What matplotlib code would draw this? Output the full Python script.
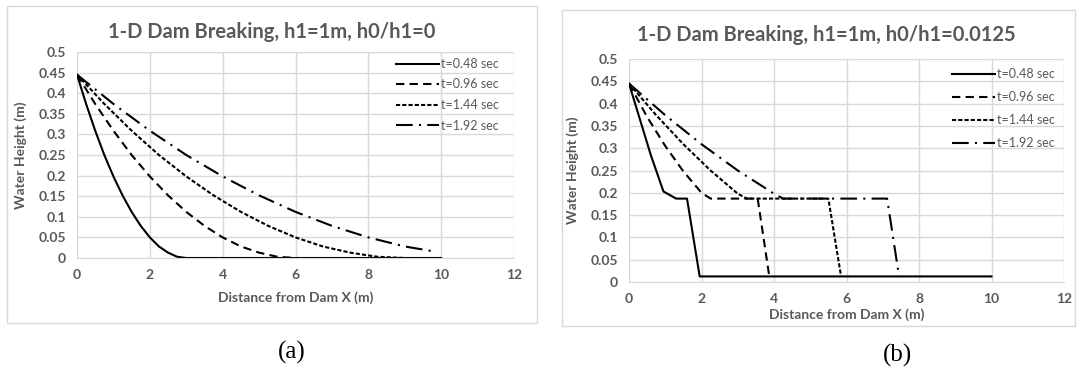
import numpy as np
import matplotlib
matplotlib.use('Agg')
import matplotlib.pyplot as plt
from matplotlib.patches import Rectangle
from matplotlib.ticker import FuncFormatter

W, H = 1077, 379
plt.rcParams['font.family'] = ['Lato', 'DejaVu Sans']

labels = ['t=0.48 sec', 't=0.96 sec', 't=1.44 sec', 't=1.92 sec']

# (a) h0/h1 = 0
xa1 = [0, 0.25, 0.5, 0.75, 1, 1.25, 1.5, 1.75, 2, 2.25, 2.5, 2.75, 3, 10]
ha1 = [0.445, 0.374, 0.309, 0.25, 0.198, 0.152, 0.112, 0.078, 0.05, 0.028, 0.013, 0.003, 0, 0]
xa2 = [0, 0.5, 1, 1.5, 2, 2.5, 3, 3.5, 4, 4.5, 5, 5.5, 6]
ha2 = [0.445, 0.374, 0.309, 0.25, 0.198, 0.152, 0.112, 0.078, 0.05, 0.028, 0.013, 0.003, 0]
xa3 = [0, 0.75, 1.5, 2.25, 3, 3.75, 4.5, 5.25, 6, 6.75, 7.5, 8.25, 9]
ha3 = [0.445, 0.374, 0.309, 0.25, 0.198, 0.152, 0.112, 0.078, 0.05, 0.028, 0.013, 0.003, 0]
xa4 = [0, 1, 2, 3, 4, 5, 6, 7, 8, 9, 9.8]
ha4 = [0.445, 0.374, 0.309, 0.25, 0.198, 0.152, 0.112, 0.078, 0.05, 0.028, 0.016]

# (b) h0/h1 = 0.0125
xb1 = [0, 0.3, 0.6, 0.95, 1.3, 1.6, 1.95, 10]
hb1 = [0.445, 0.365, 0.285, 0.203, 0.187, 0.187, 0.0125, 0.0125]
xb2 = [0, 0.5, 1, 1.5, 2.0, 2.25, 3.55, 3.87]
hb2 = [0.445, 0.37, 0.305, 0.248, 0.2, 0.187, 0.187, 0.0125]
xb3 = [0, 0.75, 1.5, 2.25, 3.0, 3.25, 5.5, 5.85]
hb3 = [0.445, 0.374, 0.309, 0.25, 0.198, 0.187, 0.187, 0.0125]
xb4 = [0, 1, 2, 3, 4, 4.25, 7.12, 7.45]
hb4 = [0.445, 0.374, 0.309, 0.25, 0.198, 0.187, 0.187, 0.0125]

styles = ['-', (0, (4, 2.5)), (0, (2, 1)), (0, (8, 3, 1, 3))]
gray = '#595959'
grid = '#d9d9d9'

fig = plt.figure(figsize=(W / 100, H / 100), dpi=100)

def px_axes(l, t, r, b):
    return fig.add_axes([l / W, (H - b) / H, (r - l) / W, (b - t) / H])

def style(ax, xpad):
    ax.set_xlim(0, 12)
    ax.set_ylim(0, 0.5)
    ax.set_xticks(np.arange(0, 13, 2))
    ax.set_yticks(np.arange(0, 0.51, 0.05))
    ax.yaxis.set_major_formatter(FuncFormatter(lambda v, p: f'{round(v, 2):g}'))
    ax.grid(True, color=grid, lw=1)
    ax.set_axisbelow(True)
    for s in ['top', 'right', 'left']:
        ax.spines[s].set_visible(False)
    ax.spines['bottom'].set_color(grid)
    ax.tick_params(length=0, colors=gray, labelsize=10, pad=8)
    for lab in ax.get_xticklabels() + ax.get_yticklabels():
        lab.set_fontweight('bold')
    ax.set_ylabel('Water Height (m)', color=gray, fontsize=10, fontweight='bold', labelpad=8)
    ax.set_xlabel('Distance from Dam X (m)', color=gray, fontsize=10, fontweight='bold', labelpad=xpad)

ax1 = px_axes(77, 52, 514, 258)
style(ax1, 7)
for x, h, ls, lab in zip([xa1, xa2, xa3, xa4], [ha1, ha2, ha3, ha4], styles, labels):
    ax1.plot(x, h, color='black', lw=1.5, linestyle=ls, label=lab)
ax1.legend(loc='upper left', bbox_to_anchor=(396 / W, (H - 58) / H), bbox_transform=fig.transFigure,
           frameon=False, fontsize=9, handlelength=3.4, handletextpad=0.2, labelspacing=0.68,
           labelcolor=gray, borderpad=0, borderaxespad=0)

ax2 = px_axes(629, 59, 1064, 282)
style(ax2, 2)
for x, h, ls, lab in zip([xb1, xb2, xb3, xb4], [hb1, hb2, hb3, hb4], styles, labels):
    ax2.plot(x, h, color='black', lw=1.5, linestyle=ls, label=lab)
ax2.legend(loc='upper left', bbox_to_anchor=(952 / W, (H - 68) / H), bbox_transform=fig.transFigure,
           frameon=False, fontsize=9, handlelength=3.4, handletextpad=0.2, labelspacing=0.88,
           labelcolor=gray, borderpad=0, borderaxespad=0)

fig.text(272 / W, 1 - 32 / H, '1-D Dam Breaking, h1=1m, h0/h1=0', ha='center', va='center',
         fontsize=14.5, color=gray, fontweight='bold')
fig.text(826 / W, 1 - 35 / H, '1-D Dam Breaking, h1=1m, h0/h1=0.0125', ha='center', va='center',
         fontsize=14.5, color=gray, fontweight='bold')

fig.add_artist(Rectangle((7 / W, 1 - 323 / H), 530 / W, 317 / H, transform=fig.transFigure,
                         fill=False, ec=grid, lw=1))
fig.add_artist(Rectangle((562 / W, 1 - 326 / H), 513 / W, 316 / H, transform=fig.transFigure,
                         fill=False, ec=grid, lw=1))

fig.text(292 / W, 1 - 352 / H, '(a)', ha='center', va='center', fontsize=18, family='Liberation Serif')
fig.text(898 / W, 1 - 355 / H, '(b)', ha='center', va='center', fontsize=18, family='Liberation Serif')

fig.savefig('out.png', dpi=100)
